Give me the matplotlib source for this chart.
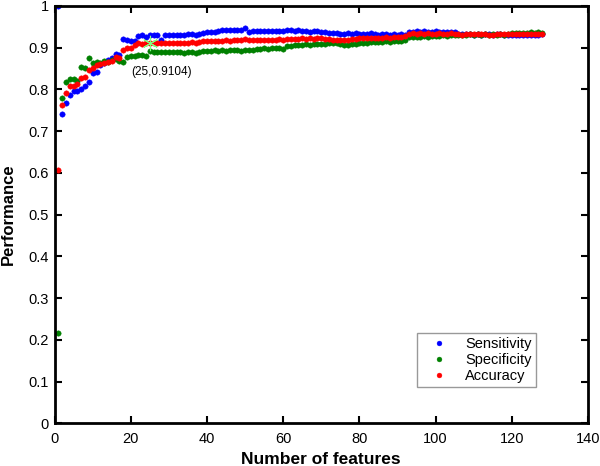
import numpy as np
import matplotlib
matplotlib.use("Agg")
import matplotlib.pyplot as plt

plt.rcParams['font.family'] = ['Liberation Sans', 'DejaVu Sans']

n_features = list(range(1, 129))

sensitivity = [
    1.000, 0.741, 0.767, 0.786, 0.795, 0.797, 0.800, 0.808, 0.818, 0.838,
    0.842, 0.858, 0.864, 0.870, 0.876, 0.884, 0.882, 0.920, 0.917, 0.915,
    0.915, 0.928, 0.929, 0.925, 0.930, 0.930, 0.930, 0.919, 0.930, 0.930,
    0.930, 0.931, 0.930, 0.931, 0.932, 0.932, 0.931, 0.933, 0.936, 0.937,
    0.937, 0.938, 0.939, 0.941, 0.942, 0.942, 0.941, 0.942, 0.943, 0.946,
    0.938, 0.939, 0.939, 0.940, 0.940, 0.939, 0.940, 0.939, 0.940, 0.940,
    0.941, 0.942, 0.940, 0.941, 0.940, 0.939, 0.938, 0.940, 0.939, 0.938,
    0.937, 0.936, 0.935, 0.934, 0.932, 0.933, 0.934, 0.933, 0.934, 0.932,
    0.933, 0.932, 0.934, 0.932, 0.931, 0.933, 0.932, 0.931, 0.932, 0.931,
    0.932, 0.931, 0.938, 0.938, 0.939, 0.938, 0.939, 0.938, 0.938, 0.939,
    0.938, 0.938, 0.937, 0.938, 0.937, 0.933, 0.932, 0.933, 0.932, 0.931,
    0.932, 0.931, 0.932, 0.932, 0.931, 0.932, 0.932, 0.931, 0.930, 0.930,
    0.929, 0.930, 0.929, 0.930, 0.929, 0.930, 0.931, 0.932,
]

specificity = [
    0.216, 0.780, 0.817, 0.825, 0.824, 0.820, 0.853, 0.851, 0.874, 0.862,
    0.865, 0.862, 0.868, 0.866, 0.870, 0.872, 0.868, 0.865, 0.878, 0.880,
    0.880, 0.881, 0.882, 0.879, 0.891, 0.890, 0.889, 0.890, 0.889, 0.890,
    0.889, 0.890, 0.889, 0.888, 0.889, 0.890, 0.888, 0.889, 0.891, 0.892,
    0.892, 0.893, 0.892, 0.893, 0.892, 0.893, 0.894, 0.893, 0.892, 0.893,
    0.894, 0.895, 0.896, 0.897, 0.898, 0.897, 0.898, 0.899, 0.898, 0.896,
    0.903, 0.904, 0.905, 0.906, 0.907, 0.908, 0.907, 0.908, 0.909, 0.908,
    0.909, 0.910, 0.911, 0.910, 0.908, 0.906, 0.907, 0.908, 0.909, 0.910,
    0.911, 0.912, 0.913, 0.914, 0.913, 0.914, 0.915, 0.914, 0.915, 0.916,
    0.916, 0.917, 0.925, 0.926, 0.925, 0.926, 0.927, 0.926, 0.927, 0.928,
    0.928, 0.929, 0.928, 0.930, 0.929, 0.931, 0.930, 0.931, 0.932, 0.931,
    0.932, 0.931, 0.932, 0.931, 0.932, 0.931, 0.932, 0.931, 0.933, 0.934,
    0.935, 0.936, 0.935, 0.936, 0.937, 0.936, 0.937, 0.935,
]

accuracy = [
    0.607, 0.762, 0.792, 0.808, 0.809, 0.812, 0.826, 0.830, 0.846, 0.850,
    0.857, 0.860, 0.864, 0.866, 0.868, 0.878, 0.874, 0.894, 0.898, 0.898,
    0.906, 0.910, 0.909, 0.910, 0.9104, 0.910, 0.911, 0.910, 0.911, 0.910,
    0.911, 0.910, 0.912, 0.911, 0.912, 0.913, 0.912, 0.914, 0.915, 0.916,
    0.915, 0.916, 0.915, 0.916, 0.917, 0.916, 0.917, 0.918, 0.919, 0.920,
    0.917, 0.918, 0.918, 0.917, 0.918, 0.919, 0.918, 0.919, 0.920, 0.919,
    0.920, 0.921, 0.920, 0.921, 0.922, 0.921, 0.922, 0.921, 0.922, 0.922,
    0.921, 0.920, 0.919, 0.918, 0.917, 0.918, 0.919, 0.920, 0.921, 0.922,
    0.923, 0.922, 0.923, 0.924, 0.923, 0.924, 0.925, 0.924, 0.925, 0.926,
    0.926, 0.927, 0.933, 0.934, 0.933, 0.934, 0.933, 0.934, 0.933, 0.933,
    0.934, 0.933, 0.933, 0.934, 0.933, 0.932, 0.930, 0.932, 0.933, 0.932,
    0.933, 0.932, 0.933, 0.931, 0.929, 0.932, 0.933, 0.932, 0.933, 0.932,
    0.933, 0.932, 0.933, 0.932, 0.933, 0.932, 0.933, 0.933,
]

series_names = ["Sensitivity", "Specificity", "Accuracy"]
series_colors = ["#0000ff", "#008000", "#ff0000"]

cursor_x, cursor_y = 25, 0.9104
cursor_label = "(25,0.9104)"

fig = plt.figure(figsize=(6.0, 4.66), dpi=100)
ax = fig.add_axes([0.091, 0.0916, 0.889, 0.896])

for name, vals, col in zip(series_names, [sensitivity, specificity, accuracy], series_colors):
    ax.plot(n_features, vals, linestyle='none', marker='o', markersize=3.9,
            markerfacecolor=col, markeredgecolor=col, markeredgewidth=0.3, label=name)

ax.plot([cursor_x], [cursor_y], linestyle='none', marker=(6, 2, 0), markersize=11,
        markeredgecolor='#80ff80', markeredgewidth=0.8)
ax.text(cursor_x - 5, cursor_y - 0.07, cursor_label, fontsize=8.5, ha='left', va='center')

ax.set_xlim(0, 140)
ax.set_ylim(0, 1)
ax.set_xticks(np.arange(0, 141, 20))
ax.set_yticks(np.arange(0, 1.01, 0.1))
ax.set_yticklabels(["0", "0.1", "0.2", "0.3", "0.4", "0.5", "0.6", "0.7", "0.8", "0.9", "1"])
ax.tick_params(direction='in', length=5, width=1.5, top=True, right=True,
               labelsize=10.5)
ax.tick_params(axis='x', pad=6)
ax.tick_params(axis='y', pad=4)
for s in ax.spines.values():
    s.set_linewidth(2)

ax.set_xlabel("Number of features", fontsize=12.5, fontweight='bold', va='center')
ax.set_ylabel("Performance", fontsize=12, fontweight='bold', va='center')
ax.xaxis.set_label_coords(0.5, -0.086)
ax.yaxis.set_label_coords(-0.087, 0.5)

leg = ax.legend(loc='lower right', bbox_to_anchor=(0.9025, 0.087), borderaxespad=0,
                fontsize=10.5, frameon=True, fancybox=False, edgecolor='#808080',
                markerscale=0.9, handlelength=2.36, handletextpad=0.65,
                borderpad=0.28, labelspacing=0.13)
leg.get_frame().set_linewidth(1.0)

fig.savefig("out.png", dpi=100)
